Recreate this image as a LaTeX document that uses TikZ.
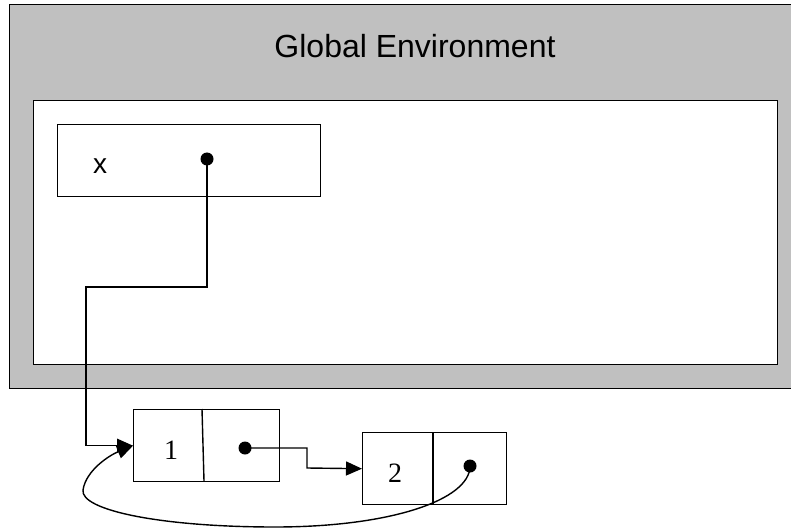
\documentclass[tikz,border=0pt]{standalone}
\usepackage{fontspec}
\setmainfont{Liberation Serif}
\newfontfamily\arialfont{Liberation Sans}
\usetikzlibrary{arrows.meta}
\definecolor{envgray}{HTML}{C0C0C0}
\begin{document}
\begin{tikzpicture}[x=1pt,y=-1pt,
  box/.style={draw, line width=1.4pt, inner sep=0pt, anchor=north west},
  dotnode/.style={circle, fill=black, inner sep=0pt, minimum size=13pt},
  ptr/.style={line width=1.4pt, -{Triangle[length=16pt,width=14pt]}},
  lbl/.style={inner sep=0pt, anchor=base}]
\useasboundingbox (0,0) rectangle (791,529);
% global environment frame
\node[box, fill=envgray, minimum width=786pt, minimum height=384pt] (global) at (9,4) {};
\node[box, fill=white, minimum width=744pt, minimum height=264pt] (frame) at (33,100) {};
\node[lbl, font=\arialfont\fontsize{32}{38}\selectfont] (title) at (415,58) {Global Environment};
% binding x
\node[box, minimum width=263pt, minimum height=72pt] (xbox) at (57,124) {};
\node[lbl, font=\arialfont\fontsize{28}{32}\selectfont] (xname) at (100,174) {x};
\node[dotnode] (d1) at (207,159) {};
% pair 1
\node[box, minimum width=146pt, minimum height=72pt] (box1) at (133,409) {};
\draw[line width=1.4pt] (202,409) -- (204,481);
\node[lbl, font=\fontsize{28}{32}\selectfont] (one) at (171,459) {1};
\node[dotnode] (d2) at (245,448) {};
% pair 2
\node[box, minimum width=144pt, minimum height=72pt] (box2) at (362,432) {};
\draw[line width=1.4pt] (433,432) -- (433,504);
\node[lbl, font=\fontsize{28}{32}\selectfont] (two) at (395,482) {2};
\node[dotnode] (d3) at (470,466) {};
% connectors
\coordinate (c1) at (86,287);
\coordinate (c2) at (307,468);
\draw[ptr] (d1.center) |- (c1) |- (box1.west);
\draw[ptr] (d2.center) -| (c2) -- (box2.west);
\draw[ptr] (d3.center) .. controls (470,500) and (390,527) .. (275,527)
  .. controls (160,527) and (80,510) .. (83,490)
  .. controls (86,470) and (110,455) .. (box1.west);
\end{tikzpicture}
\end{document}
